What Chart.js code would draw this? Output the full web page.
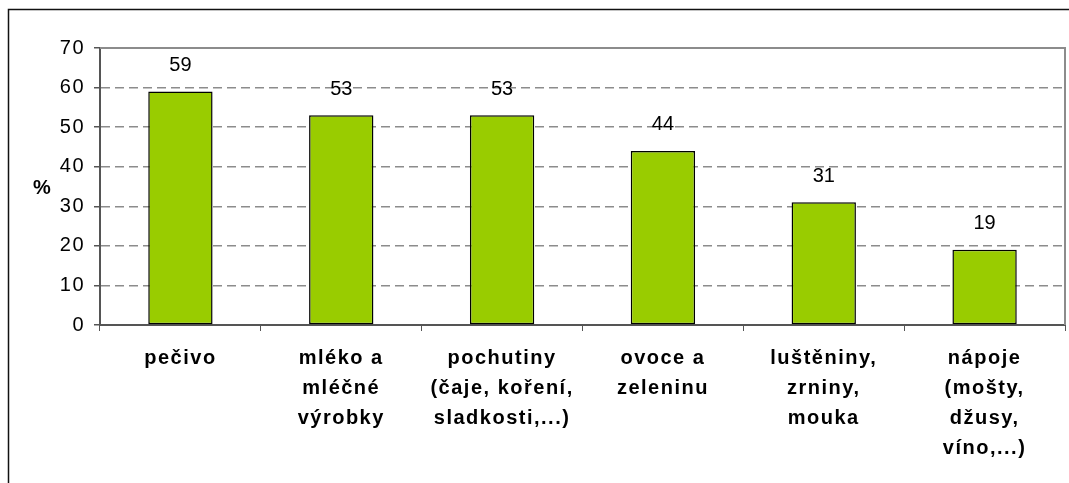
<!DOCTYPE html>
<html>
<head>
<meta charset="utf-8">
<script src="https://cdn.jsdelivr.net/npm/chart.js@4/dist/chart.umd.min.js"></script>
<style>
  html, body { margin: 0; padding: 0; background: #fff; }
  #wrap { width: 1069px; height: 483px; position: relative; }
</style>
</head>
<body>
<div id="wrap"><canvas id="chart"></canvas></div>
<script>
const categories = [
  ["pečivo"],
  ["mléko a", "mléčné", "výrobky"],
  ["pochutiny", "(čaje, koření,", "sladkosti,...)"],
  ["ovoce a", "zeleninu"],
  ["luštěniny,", "zrniny,", "mouka"],
  ["nápoje", "(mošty,", "džusy,", "víno,...)"],
];
const percentValues = [59, 53, 53, 44, 31, 19];
const yTicks = [0, 10, 20, 30, 40, 50, 60, 70];
const yTitle = "%";

const fontFamily = "'Liberation Sans', Arial, sans-serif";

// frame, plot border, "%" title and value labels
const decorations = {
  id: "decorations",
  beforeDraw(chart) {
    const ctx = chart.ctx;
    ctx.save();
    ctx.strokeStyle = "#111";
    ctx.lineWidth = 1.5;
    ctx.beginPath();
    ctx.moveTo(8.5, chart.height);
    ctx.lineTo(8.5, 9.5);
    ctx.lineTo(chart.width, 9.5);
    ctx.stroke();
    ctx.restore();
    // the old chart spaces its axis letters out a little
    ctx.letterSpacing = "1.5px";
  },
  afterDraw(chart) {
    const ctx = chart.ctx;
    const area = chart.chartArea;
    ctx.letterSpacing = "0px";
    ctx.save();
    ctx.strokeStyle = "#8c8c8c";
    ctx.lineWidth = 2;
    ctx.beginPath();
    ctx.moveTo(area.left, area.top);
    ctx.lineTo(area.right, area.top);
    ctx.lineTo(area.right, area.bottom);
    ctx.stroke();

    ctx.fillStyle = "#000";
    ctx.font = "bold 20px " + fontFamily;
    ctx.textAlign = "center";
    ctx.textBaseline = "middle";
    ctx.fillText(yTitle, 42, (area.top + area.bottom) / 2 + 2);

    ctx.font = "20px " + fontFamily;
    const meta = chart.getDatasetMeta(0);
    meta.data.forEach((bar, i) => {
      ctx.fillText(String(percentValues[i]), bar.x, bar.y - 26);
    });
    ctx.restore();
  },
};

new Chart(document.getElementById("chart"), {
  type: "bar",
  data: {
    labels: categories,
    datasets: [
      {
        data: percentValues,
        backgroundColor: "#99cc00",
        borderColor: "#000",
        borderWidth: 1.5,
        borderSkipped: false,
        barPercentage: 0.4,
        categoryPercentage: 1,
      },
    ],
  },
  options: {
    responsive: true,
    maintainAspectRatio: false,
    animation: false,
    layout: { padding: { left: 0, top: 48, right: 4, bottom: 0 } },
    plugins: {
      legend: { display: false },
      tooltip: { enabled: false },
    },
    scales: {
      x: {
        afterFit(scale) {
          scale.height = 158;
        },
        grid: {
          drawOnChartArea: false,
          drawTicks: true,
          tickLength: 6,
          tickColor: "#555",
          offset: true,
        },
        border: { color: "#555", width: 2 },
        ticks: {
          color: "#000",
          padding: 12,
          maxRotation: 0,
          autoSkip: false,
          font: { family: fontFamily, size: 20, weight: "bold", lineHeight: 1.5 },
        },
      },
      y: {
        min: 0,
        max: 70,
        afterFit(scale) {
          scale.width = 100;
        },
        afterBuildTicks(scale) {
          scale.ticks = yTicks.map((v) => ({ value: v }));
        },
        grid: {
          color: (c) =>
            c.tick && (c.tick.value === 0 || c.tick.value === 70)
              ? "rgba(0,0,0,0)"
              : "#8c8c8c",
          lineWidth: 1.5,
          tickColor: "#555",
          tickLength: 6,
        },
        border: { color: "#555", width: 2, dash: [9, 5] },
        ticks: {
          color: "#000",
          padding: 9,
          font: { family: fontFamily, size: 20 },
        },
      },
    },
  },
  plugins: [decorations],
});
</script>
</body>
</html>
